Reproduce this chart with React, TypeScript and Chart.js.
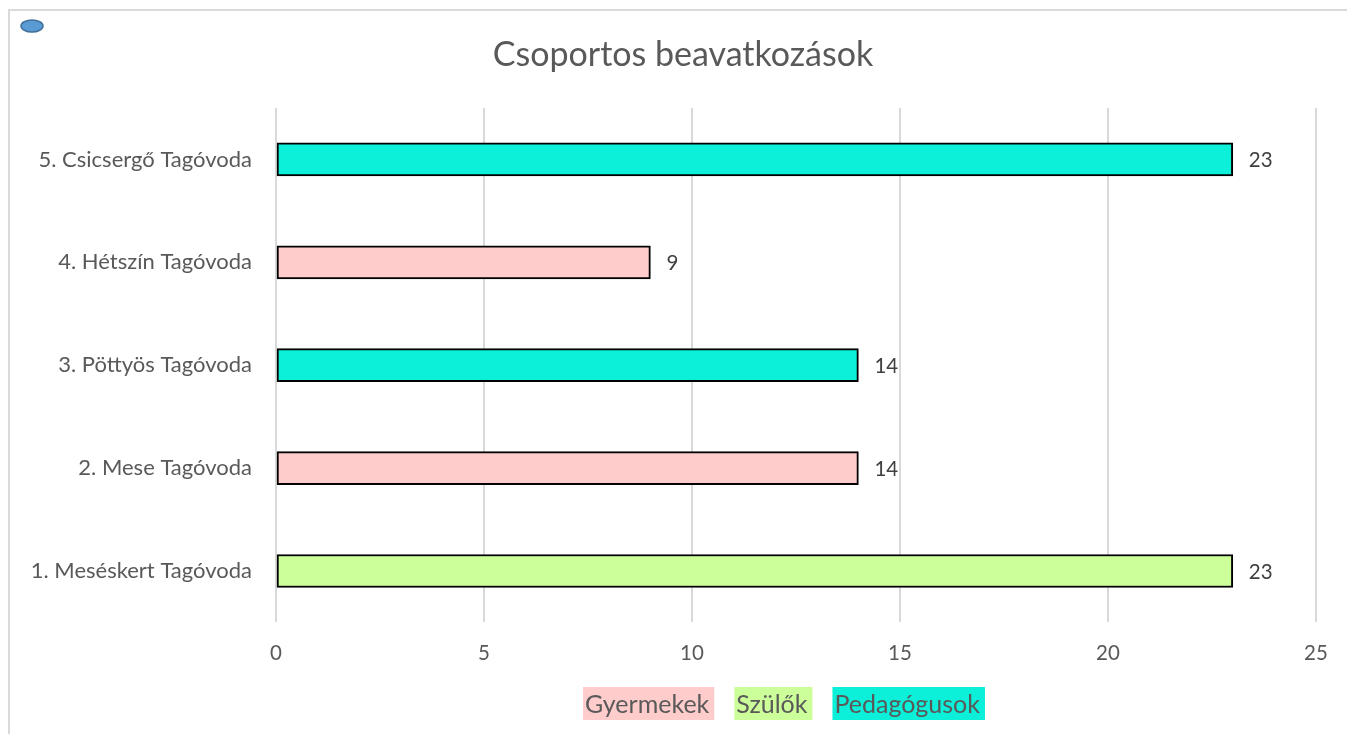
import React, { useEffect, useRef } from "react";
import { Chart, registerables } from "chart.js";

Chart.register(...registerables);

const categories = [
  "1. Meséskert Tagóvoda",
  "2. Mese Tagóvoda",
  "3. Pöttyös Tagóvoda",
  "4. Hétszín Tagóvoda",
  "5. Csicsergő Tagóvoda",
];
const gyermekek = [null, 14, null, 9, null];
const szulok = [23, null, null, null, null];
const pedagogusok = [null, null, 14, null, 23];
const seriesNames = ["Gyermekek", "Szülők", "Pedagógusok"];
const seriesColors = ["#FFCCCC", "#CCFF99", "#0CEFD9"];
const xMin = 0;
const xMax = 25;
const xStep = 5;
const titleText = "Csoportos beavatkozások";

const FONT = "Lato, Carlito, Calibri, 'Open Sans', sans-serif";
const TEXT = "#595959";

const W = 1347;
const H = 734;

const framePlugin = {
  id: "frame",
  beforeDraw(chart: any) {
    const ctx = chart.ctx;
    ctx.save();
    ctx.fillStyle = "#ffffff";
    ctx.fillRect(0, 0, chart.width, chart.height);
    ctx.strokeStyle = "#D9D9D9";
    ctx.lineWidth = 2;
    ctx.beginPath();
    ctx.moveTo(9, chart.height);
    ctx.lineTo(9, 10);
    ctx.lineTo(chart.width, 10);
    ctx.stroke();
    ctx.beginPath();
    ctx.ellipse(32, 26, 11, 6, 0, 0, Math.PI * 2);
    ctx.fillStyle = "#5B9BD5";
    ctx.fill();
    ctx.strokeStyle = "#41719C";
    ctx.lineWidth = 1.5;
    ctx.stroke();
    ctx.restore();
  },
};

const titlePlugin = {
  id: "frameTitle",
  afterDraw(chart: any) {
    const ctx = chart.ctx;
    ctx.save();
    ctx.font = `34px ${FONT}`;
    ctx.fillStyle = TEXT;
    ctx.textAlign = "center";
    ctx.textBaseline = "middle";
    ctx.fillText(titleText, (9 + chart.width) / 2 + 5, 55);
    ctx.restore();
  },
};

const valueLabelPlugin = {
  id: "valueLabels",
  afterDatasetsDraw(chart: any) {
    const ctx = chart.ctx;
    ctx.save();
    ctx.font = `20.5px ${FONT}`;
    ctx.fillStyle = "#404040";
    ctx.textAlign = "left";
    ctx.textBaseline = "middle";
    chart.data.datasets.forEach((ds: any, i: number) => {
      const meta = chart.getDatasetMeta(i);
      meta.data.forEach((el: any, j: number) => {
        const v = ds.data[j];
        if (v === null || v === undefined) return;
        ctx.fillText(String(v), el.x + 16, el.y + 1);
      });
    });
    ctx.restore();
  },
};

const legendPlugin = {
  id: "boxLegend",
  afterDraw(chart: any) {
    const ctx = chart.ctx;
    ctx.save();
    ctx.font = `25px ${FONT}`;
    ctx.textBaseline = "middle";
    ctx.textAlign = "left";
    const padL = 2;
    const padR = 5;
    const gap = 20;
    const widths = seriesNames.map((n) => ctx.measureText(n).width + padL + padR);
    const total = widths.reduce((a, b) => a + b, 0) + gap * (widths.length - 1);
    const ca = chart.chartArea;
    let x = (ca.left + ca.right) / 2 - 12 - total / 2;
    const yTop = 687;
    const hBox = 33;
    seriesNames.forEach((n, i) => {
      ctx.fillStyle = seriesColors[i];
      ctx.fillRect(x, yTop, widths[i], hBox);
      ctx.fillStyle = TEXT;
      ctx.fillText(n, x + padL, yTop + hBox / 2 + 1);
      x += widths[i] + gap;
    });
    ctx.restore();
  },
};

export default function App() {
  const ref = useRef<HTMLCanvasElement | null>(null);

  useEffect(() => {
    if (!ref.current) return;
    const series = [gyermekek, szulok, pedagogusok];
    const chart = new Chart(ref.current, {
      type: "bar",
      data: {
        labels: categories,
        datasets: series.map((d, i) => ({
          label: seriesNames[i],
          data: d,
          backgroundColor: seriesColors[i],
          borderColor: "#000000",
          borderWidth: 2,
          borderSkipped: false,
          barThickness: 33,
          grouped: false,
        })),
      },
      options: {
        indexAxis: "y",
        responsive: false,
        animation: false,
        layout: { padding: { left: 0, right: 31, top: 108, bottom: 49 } },
        plugins: {
          legend: { display: false },
          tooltip: { enabled: false },
          title: { display: false },
        },
        scales: {
          x: {
            min: xMin,
            max: xMax,
            ticks: {
              stepSize: xStep,
              color: TEXT,
              font: { family: FONT, size: 20.5 },
              padding: 19,
            },
            grid: { color: "#D9D9D9", lineWidth: 2, drawTicks: false },
            border: { display: false },
          },
          y: {
            reverse: true,
            ticks: {
              color: TEXT,
              font: { family: FONT, size: 22 },
              padding: 24,
            },
            grid: { display: false, drawTicks: false },
            border: { display: false },
            afterFit: (scale: any) => {
              scale.width = 276;
            },
          },
        },
      },
      plugins: [framePlugin, valueLabelPlugin, legendPlugin, titlePlugin],
    } as any);
    return () => chart.destroy();
  }, []);

  return (
    <div style={{ position: "fixed", left: 0, top: 0, width: W, height: H }}>
      <canvas ref={ref} width={W} height={H} style={{ display: "block" }} />
    </div>
  );
}
